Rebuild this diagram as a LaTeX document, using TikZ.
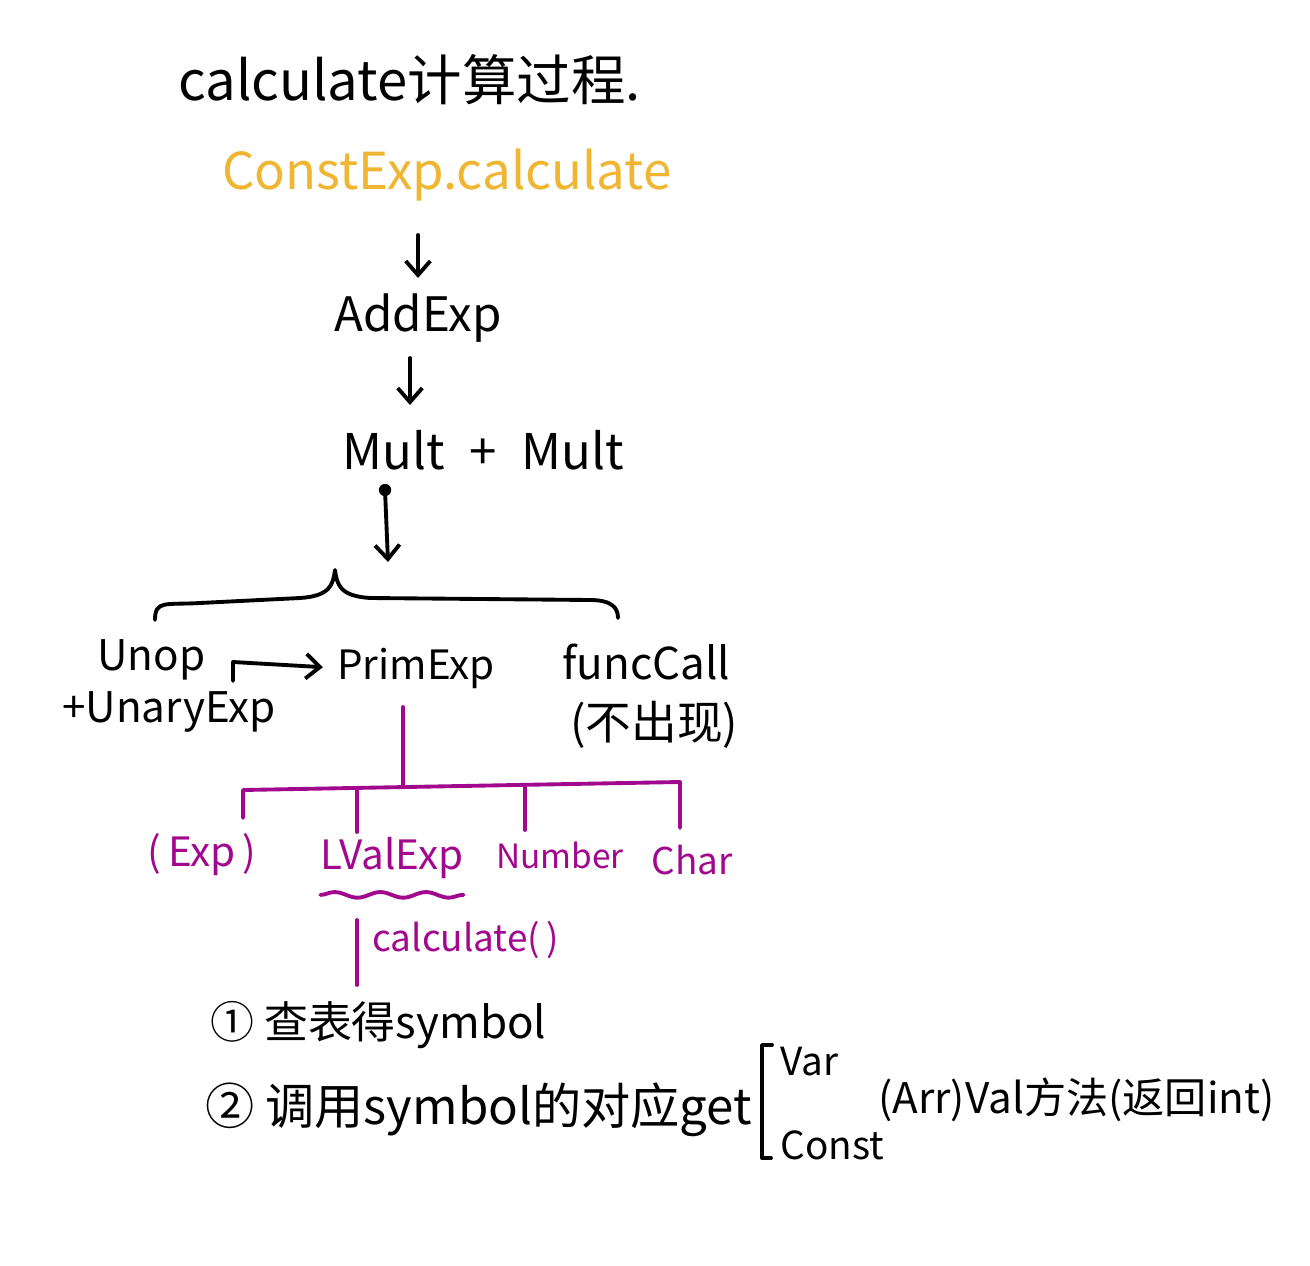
\documentclass[tikz,border=0pt]{standalone}
\usepackage{fontspec}
\setmainfont{Noto Sans CJK SC}
\usepackage{xcolor}
\usetikzlibrary{arrows.meta,positioning,decorations.pathmorphing}

\definecolor{penyellow}{RGB}{240,182,50}
\definecolor{penpurple}{RGB}{162,8,142}

\begin{document}
\begin{tikzpicture}[
  x=0.02cm, y=-0.02cm,
  ink/.style={line width=2.2pt, black, line cap=round, line join=round},
  tree/.style={line width=2.2pt, penpurple, line cap=round, line join=round},
  arr/.style={ink, -{Straight Barb[length=8pt,width=14pt]}},
  big/.style={inner sep=0pt, font=\fontsize{29}{34}\selectfont},
  mid/.style={inner sep=0pt, font=\fontsize{24}{28}\selectfont},
  leaf/.style={inner sep=0pt, text=penpurple, font=\fontsize{21}{25}\selectfont},
]
  \fill[white] (0,0) rectangle (1310,1266);
  \useasboundingbox (0,0) rectangle (1310,1266);

  % top chain
  \node[big, anchor=west, font=\fontsize{31}{36}\selectfont] (title) at (178,80) {calculate计算过程.};
  \node[big, anchor=west, text=penyellow] (const) at (222,175) {ConstExp.calculate};
  \node[big, font=\fontsize{27}{32}\selectfont] (add)  at (418,318) {AddExp};
  \node[big, font=\fontsize{28}{32}\selectfont] (mult) at (483,450) {Mult \;+\; Mult};

  \coordinate (top) at (418,235);
  \coordinate (addin) at (418,278);
  \coordinate (addout) at (410,358);
  \coordinate (low) at (410,405);
  \draw[arr] (top) -- (addin);
  \draw[arr] (addout) -- (low);
  \coordinate (dot) at (385,490);
  \coordinate (tip) at (388,562);
  \fill (dot) circle (3.5pt);
  \draw[arr] (dot) -- (tip);

  % brace over the three cases
  \draw[ink] (155,620) .. controls (155,600) and (165,605) .. (200,603)
    -- (300,598) .. controls (330,596) and (333,585) .. (335,570)
    .. controls (337,585) and (340,596) .. (370,598)
    -- (590,600) .. controls (612,600) and (618,608) .. (618,618);

  \node[mid, anchor=west] (unop)  at (97,660)  {Unop};
  \node[mid, anchor=west] (unary) at (62,712)  {+UnaryExp};
  \node[mid, font=\fontsize{23}{27}\selectfont] (prim) at (416,668) {PrimExp};
  \node[mid, anchor=west, font=\fontsize{25}{29}\selectfont] (func)  at (562,662) {funcCall};
  \node[mid, anchor=west, font=\fontsize{26}{30}\selectfont] (never) at (570,725) {(不出现)};

  \coordinate (bend) at (233,681);
  \draw[arr, shorten >=8pt] (bend) -- (233,662) -- (prim.west);

  % purple branches of PrimExp
  \node[leaf, font=\fontsize{23}{27}\selectfont] (paren) at (202,855) {(\,Exp\,)};
  \node[leaf, font=\fontsize{23}{27}\selectfont] (lval) at (392,858) {LValExp};
  \node[leaf, font=\fontsize{19}{23}\selectfont] (number) at (560,855) {Number};
  \node[leaf] (char)   at (692,860) {Char};

  \coordinate (primfoot) at (403,707);
  \coordinate (bar) at (403,786);
  \draw[tree] (primfoot) -- (bar);
  \draw[tree] (243,818) -- (243,790) -- (680,782) -- (680,828);
  \draw[tree] (357,832) -- (357,788);
  \draw[tree] (525,830) -- (525,785);
  \draw[tree, decorate, decoration={snake, amplitude=1.6pt, segment length=26pt}]
    ([yshift=-9pt]lval.south west) -- ([yshift=-9pt]lval.south east);

  \coordinate (callstart) at (357,920);
  \coordinate (callend) at (357,985);
  \draw[tree] (callstart) -- (callend);
  \node[leaf, anchor=west] (call) at (372,940) {calculate(\,)};

  % steps
  \node[mid, anchor=west, font=\fontsize{25}{29}\selectfont] (step1) at (210,1025) {① 查表得symbol};
  \node[mid, anchor=west, font=\fontsize{28}{32}\selectfont] (step2) at (205,1110) {② 调用symbol的对应get};
  \node[mid, anchor=west, font=\fontsize{22}{26}\selectfont] (var)   at (780,1062) {Var};
  \node[mid, anchor=west, font=\fontsize{22}{26}\selectfont] (cst)   at (780,1145) {Const};
  \node[mid, anchor=west, font=\fontsize{24}{28}\selectfont] (ret) at (878,1100) {(Arr)Val方法(返回int)};
  \draw[ink] (772,1045) -- (762,1045) -- (762,1158) -- (771,1158);
\end{tikzpicture}
\end{document}
